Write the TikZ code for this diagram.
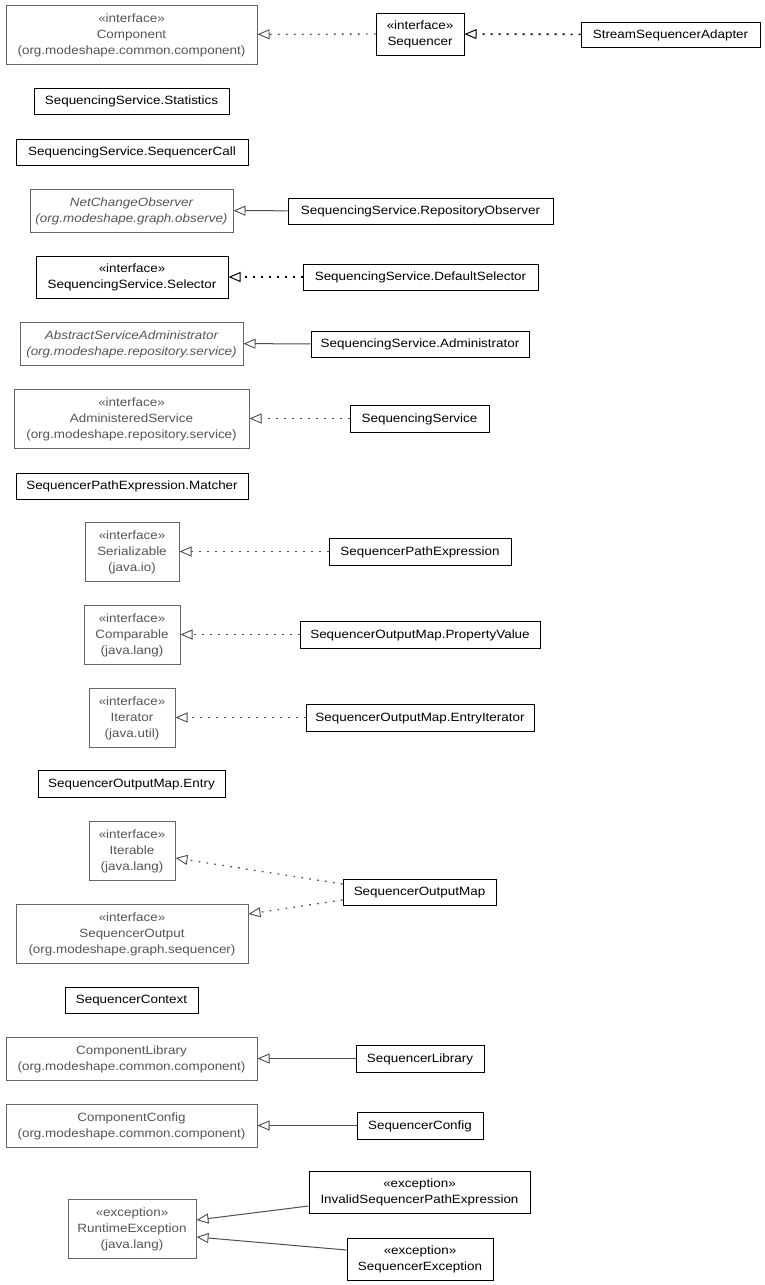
\documentclass[tikz,border=0pt]{standalone}
\usepackage{fontspec}
\setmainfont[FakeStretch=1.12]{Liberation Sans}
\usetikzlibrary{arrows.meta}
\definecolor{extdraw}{HTML}{666666}
\definecolor{exttext}{HTML}{555555}
\definecolor{edgegray}{HTML}{4D4D4D}
\tikzset{
  cls/.style={draw=black, line width=1pt, fill=white, inner sep=0pt, align=center,
    font=\fontsize{12}{16}\selectfont, text=black, text depth=0.8pt},
  ext/.style={cls, draw=extdraw, text=exttext},
  impl/.style={draw=edgegray, line width=1.3pt, dash pattern=on 1.6pt off 6.4pt,
    -{Triangle[open, length=12pt, width=10pt, line width=0.9pt, fill=white, sep=0pt]}},
  implb/.style={draw=black, line width=1.6pt, dash pattern=on 1.8pt off 6.2pt,
    -{Triangle[open, length=12pt, width=10pt, line width=1pt, fill=white]}},
  gen/.style={draw=edgegray, line width=1pt,
    -{Triangle[open, length=12pt, width=10pt, line width=0.9pt, fill=white]}},
}
\begin{document}
\begin{tikzpicture}[x=1pt,y=-1pt]
\useasboundingbox (0,0) rectangle (765,1285);
% nodes
\node[ext, minimum width=251pt, minimum height=59pt] (component) at (131.5,34.5) {«interface»\\Component\\(org.modeshape.common.component)};
\node[cls, minimum width=88pt, minimum height=42pt] (sequencer) at (420,34) {«interface»\\Sequencer};
\node[cls, minimum width=179pt, minimum height=25pt] (ssa) at (670.5,34.5) {StreamSequencerAdapter};
\node[cls, minimum width=195pt, minimum height=26pt] (stats) at (131.5,101) {SequencingService.Statistics};
\node[cls, minimum width=232pt, minimum height=26pt] (call) at (132,152) {SequencingService.SequencerCall};
\node[ext, minimum width=203pt, minimum height=43pt, font=\fontsize{12}{16}\selectfont\itshape] (nco) at (131.5,210.5) {NetChangeObserver\\(org.modeshape.graph.observe)};
\node[cls, minimum width=265pt, minimum height=26pt] (repobs) at (420.5,211) {SequencingService.RepositoryObserver};
\node[cls, minimum width=192pt, minimum height=42pt] (selector) at (132,277) {«interface»\\SequencingService.Selector};
\node[cls, minimum width=235pt, minimum height=26pt] (defsel) at (420.5,277) {SequencingService.DefaultSelector};
\node[ext, minimum width=223pt, minimum height=43pt, font=\fontsize{12}{16}\selectfont\itshape] (asa) at (131.5,343.5) {AbstractServiceAdministrator\\(org.modeshape.repository.service)};
\node[cls, minimum width=218pt, minimum height=26pt] (admin) at (420,344) {SequencingService.Administrator};
\node[ext, minimum width=235pt, minimum height=59pt] (adms) at (131.5,418.5) {«interface»\\AdministeredService\\(org.modeshape.repository.service)};
\node[cls, minimum width=139pt, minimum height=27pt] (ss) at (419.5,418.5) {SequencingService};
\node[cls, minimum width=232pt, minimum height=26pt] (matcher) at (132,486) {SequencerPathExpression.Matcher};
\node[ext, minimum width=94pt, minimum height=59pt] (ser) at (132,551.5) {«interface»\\Serializable\\(java.io)};
\node[cls, minimum width=182pt, minimum height=27pt] (spe) at (420,551.5) {SequencerPathExpression};
\node[ext, minimum width=96pt, minimum height=59pt] (comp) at (132,634.5) {«interface»\\Comparable\\(java.lang)};
\node[cls, minimum width=240pt, minimum height=27pt] (pv) at (420,634.5) {SequencerOutputMap.PropertyValue};
\node[ext, minimum width=86pt, minimum height=59pt] (iter) at (132,717.5) {«interface»\\Iterator\\(java.util)};
\node[cls, minimum width=228pt, minimum height=27pt] (ei) at (420,717.5) {SequencerOutputMap.EntryIterator};
\node[cls, minimum width=187pt, minimum height=27pt] (entry) at (131.5,783.5) {SequencerOutputMap.Entry};
\node[ext, minimum width=86pt, minimum height=59pt] (itbl) at (132,850.5) {«interface»\\Iterable\\(java.lang)};
\node[ext, minimum width=232pt, minimum height=59pt] (sout) at (132,933.5) {«interface»\\SequencerOutput\\(org.modeshape.graph.sequencer)};
\node[cls, minimum width=153pt, minimum height=26pt] (som) at (419.5,892) {SequencerOutputMap};
\node[cls, minimum width=133pt, minimum height=26pt] (ctx) at (131.5,1000) {SequencerContext};
\node[ext, minimum width=251pt, minimum height=43pt] (clib) at (131.5,1058.5) {ComponentLibrary\\(org.modeshape.common.component)};
\node[cls, minimum width=128pt, minimum height=27pt] (slib) at (420,1058.5) {SequencerLibrary};
\node[ext, minimum width=251pt, minimum height=43pt] (ccfg) at (131.5,1125.5) {ComponentConfig\\(org.modeshape.common.component)};
\node[cls, minimum width=126pt, minimum height=27pt] (scfg) at (420,1125.5) {SequencerConfig};
\node[cls, minimum width=221pt, minimum height=42pt] (ispe) at (419.5,1192) {«exception»\\InvalidSequencerPathExpression};
\node[ext, minimum width=128pt, minimum height=59pt] (rte) at (132,1228.5) {«exception»\\RuntimeException\\(java.lang)};
\node[cls, minimum width=146pt, minimum height=42pt] (sexc) at (420,1259) {«exception»\\SequencerException};
% edges
\draw[impl] (sequencer) -- (component);
\draw[implb] (ssa) -- (sequencer);
\draw[gen] (repobs) -- (nco);
\draw[implb] (defsel) -- (selector);
\draw[gen] (admin) -- (asa);
\draw[impl] (ss) -- (adms);
\draw[impl] (spe) -- (ser);
\draw[impl] (pv) -- (comp);
\draw[impl] (ei) -- (iter);
\draw[impl] (som.west |- 0,884) -- (itbl.east |- 0,858);
\draw[impl] (som.west |- 0,900) -- (sout.east |- 0,914);
\draw[gen] (slib) -- (clib);
\draw[gen] (scfg) -- (ccfg);
\draw[gen] (ispe.west |- 0,1206) -- (rte.east |- 0,1220);
\draw[gen] (sexc.west |- 0,1250) -- (rte.east |- 0,1237);
\end{tikzpicture}
\end{document}
